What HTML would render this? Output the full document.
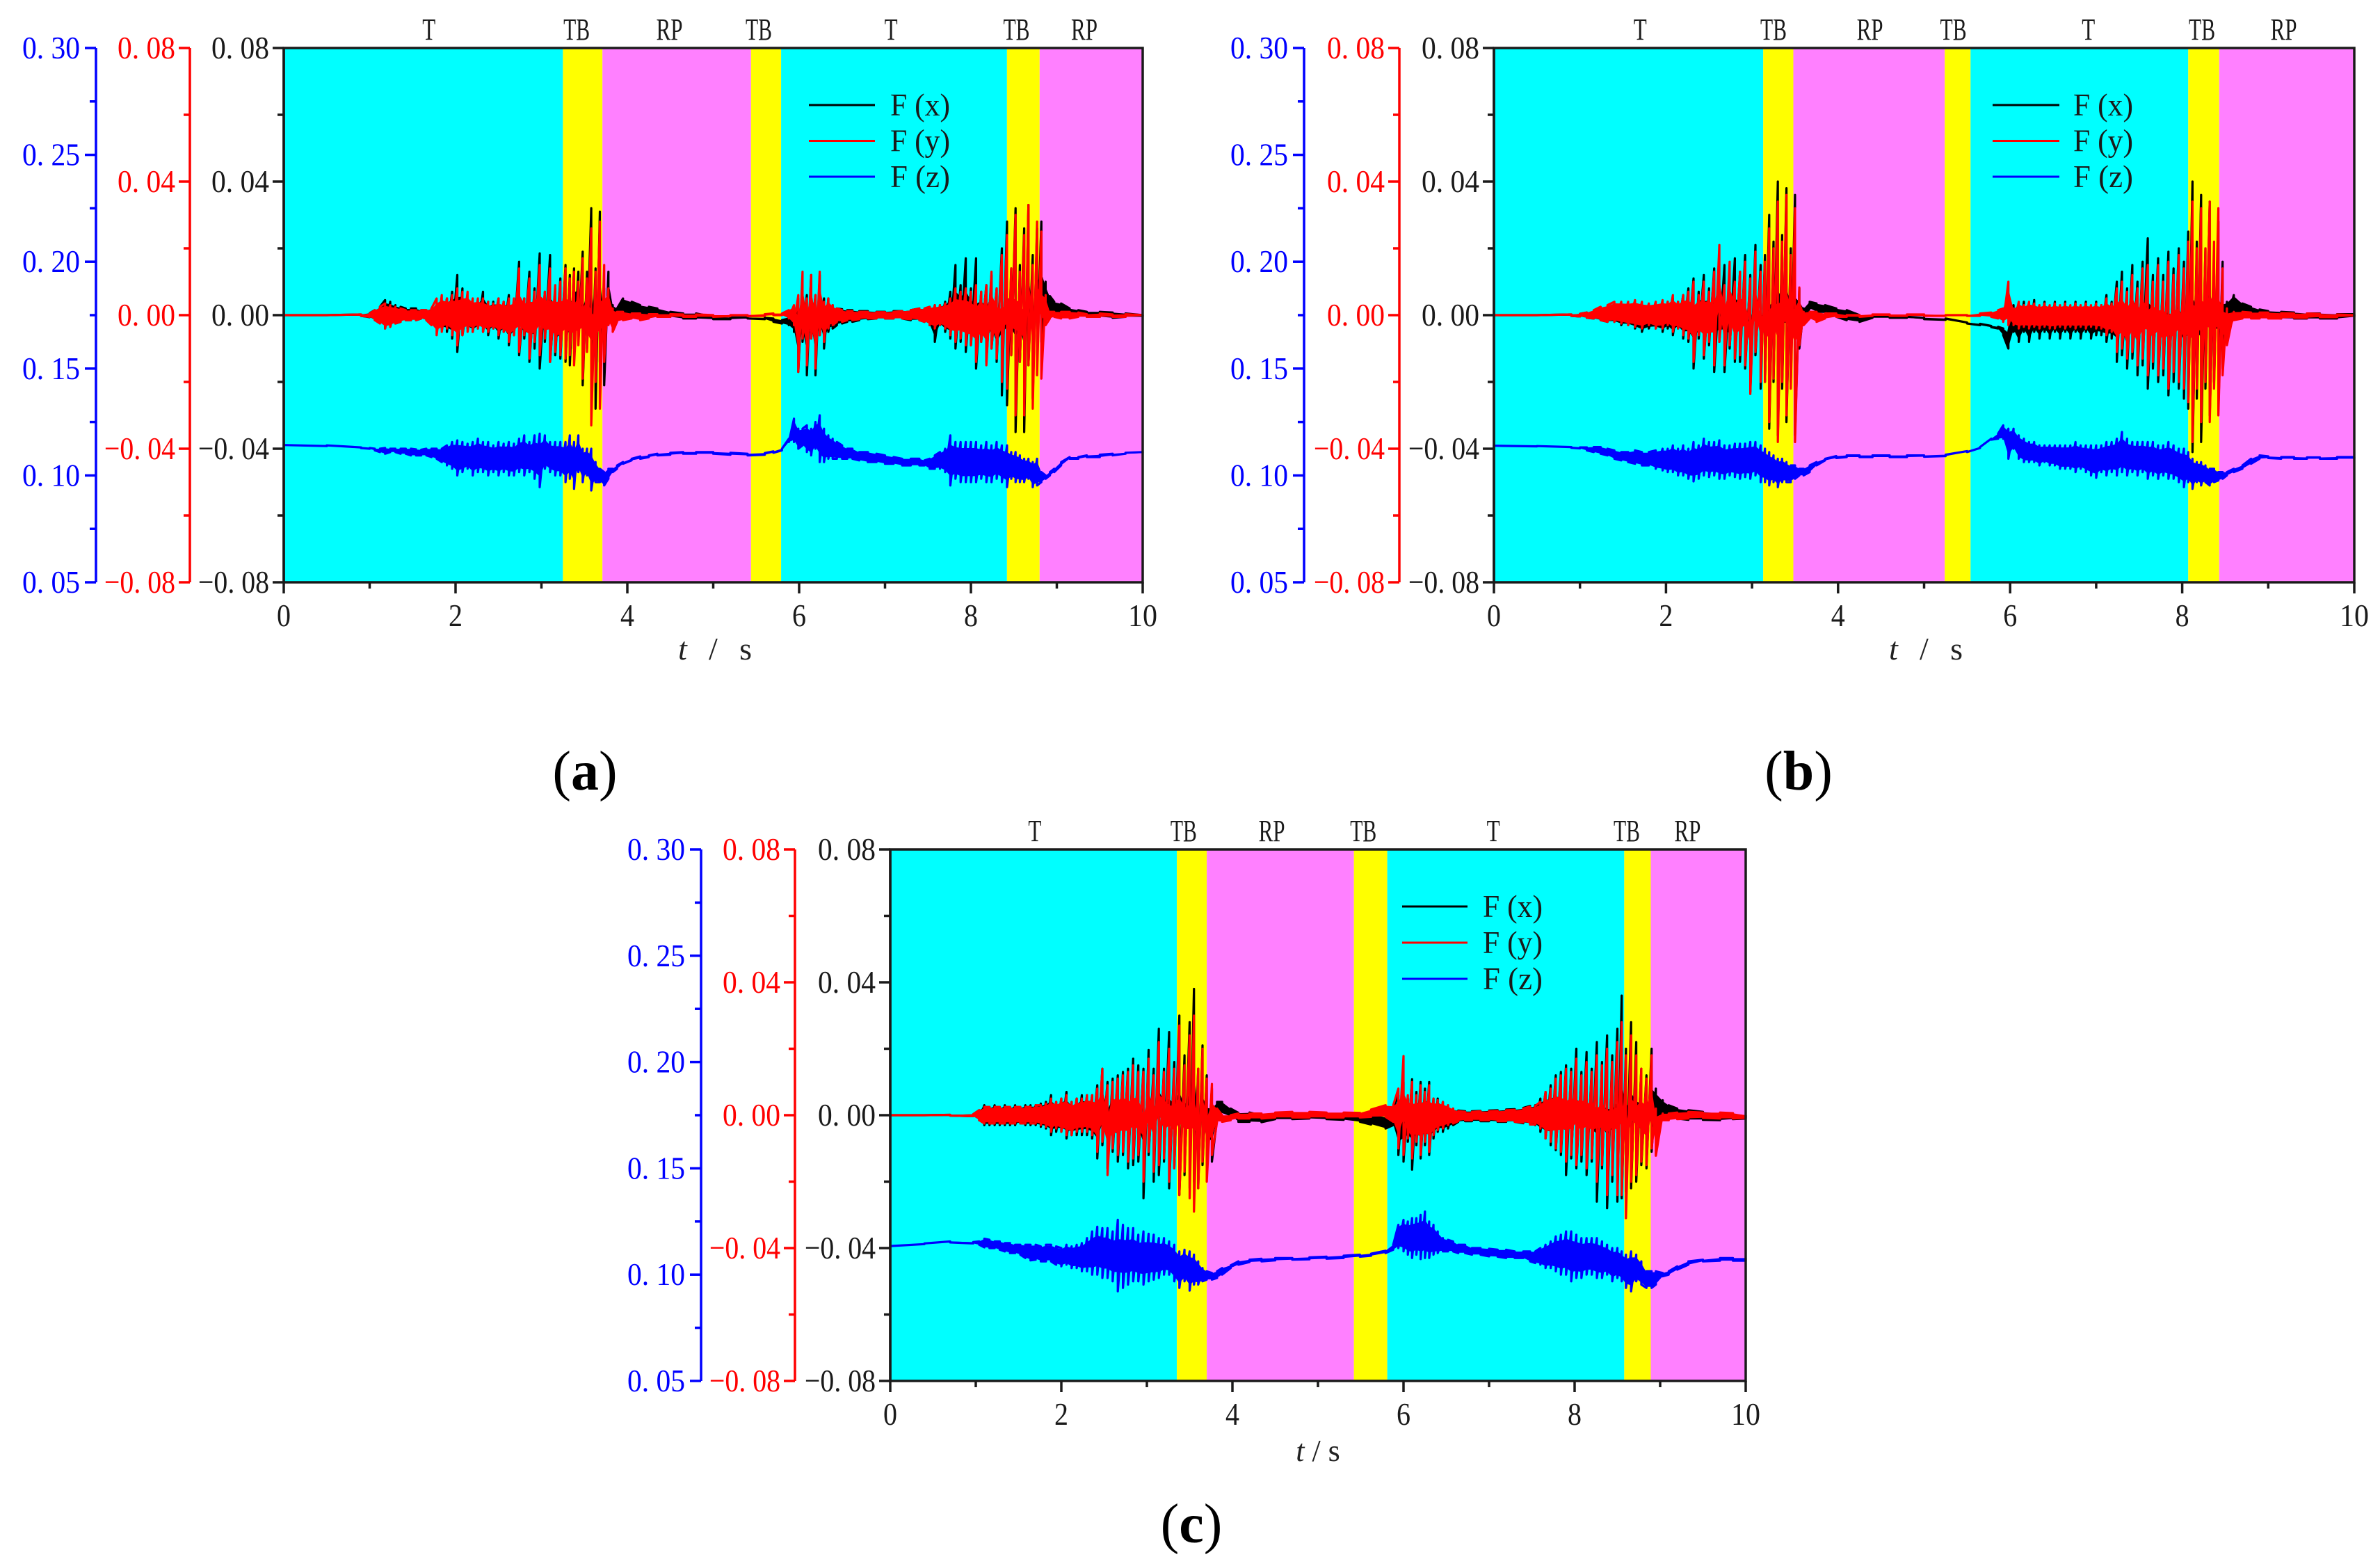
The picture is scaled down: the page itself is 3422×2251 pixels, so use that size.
<!DOCTYPE html>
<html lang="en">
<head>
<meta charset="utf-8">
<title>Force signals by phase</title>
<style>
html,body{margin:0;padding:0;background:#fff;width:3422px;height:2251px;overflow:hidden}
svg{display:block}
text{font-family:"Liberation Serif","Noto Serif CJK SC",serif}
</style>
</head>
<body>
<svg id="figure" xmlns="http://www.w3.org/2000/svg" width="3422" height="2251" viewBox="0 0 3422 2251">
<rect x="0" y="0" width="3422" height="2251" fill="#ffffff"/>
<g id="panel-a"></g>
<g id="panel-b"></g>
<g id="panel-c"></g>
<text x="1028" y="948" font-size="46" text-anchor="middle" fill="#222" xml:space="preserve" textLength="106" lengthAdjust="spacing"><tspan font-style="italic">t</tspan> / s</text>
<text x="2769" y="948" font-size="46" text-anchor="middle" fill="#222" xml:space="preserve" textLength="106" lengthAdjust="spacing"><tspan font-style="italic">t</tspan> / s</text>
<text x="1895" y="2100" font-size="44" text-anchor="middle" fill="#222"><tspan font-style="italic">t</tspan> / s</text>
<text x="841" y="1135" font-size="80" text-anchor="middle" fill="#000">(<tspan font-weight="bold">a</tspan>)</text>
<text x="2586" y="1135" font-size="80" text-anchor="middle" fill="#000">(<tspan font-weight="bold">b</tspan>)</text>
<text x="1713" y="2217" font-size="80" text-anchor="middle" fill="#000">(<tspan font-weight="bold">c</tspan>)</text>
</svg>
<script>
// ---- shared axis tick values and labels ----
const leftTicks=[-0.08,-0.04,0,0.04,0.08];
const leftMinorTicks=[-0.06,-0.02,0.02,0.06];
const leftTickLabels=["\u22120. 08","\u22120. 04","0. 00","0. 04","0. 08"];
const blueTicks=[0.05,0.10,0.15,0.20,0.25,0.30];
const blueMinorTicks=[0.075,0.125,0.175,0.225,0.275];
const blueTickLabels=["0. 05","0. 10","0. 15","0. 20","0. 25","0. 30"];
const timeTicks=[0,2,4,6,8,10];
const timeMinorTicks=[1,3,5,7,9];
const timeTickLabels=["0","2","4","6","8","10"];
const seriesNames=["F (x)","F (y)","F (z)"];
const phaseNames=["T","TB","RP","TB","T","TB","RP"];

// ---- panel (a): phases, seconds ----
const aPhaseEdges=[0,3.25,3.71,5.44,5.79,8.42,8.80,10];
const aPhaseLabelTimes=[1.69,3.41,4.49,5.53,7.07,8.53,9.32];
// ---- panel (a): envelope readings in units of 0.001 ----
const aTimes=[0,0.5,0.9,1,1.06,1.12,1.18,1.24,1.3,1.36,
1.42,1.48,1.54,1.6,1.66,1.72,1.78,1.84,1.9,1.96,
2.02,2.08,2.14,2.2,2.26,2.32,2.38,2.44,2.5,2.56,
2.62,2.68,2.74,2.8,2.86,2.92,2.98,3.04,3.1,3.16,
3.22,3.28,3.33,3.38,3.43,3.48,3.53,3.58,3.63,3.68,
3.73,3.78,3.83,3.88,3.95,4.05,4.15,4.25,4.35,4.5,
4.65,4.8,5,5.2,5.4,5.6,5.7,5.8,5.88,5.94,
5.99,6.04,6.09,6.14,6.19,6.24,6.29,6.34,6.39,6.44,
6.5,6.56,6.62,6.7,6.8,6.9,7,7.1,7.2,7.3,
7.4,7.46,7.52,7.58,7.64,7.7,7.76,7.82,7.88,7.94,
8,8.06,8.12,8.18,8.24,8.3,8.36,8.42,8.47,8.52,
8.57,8.62,8.67,8.72,8.77,8.82,8.87,8.92,8.97,9.05,
9.15,9.25,9.35,9.5,9.65,9.8,10];
const aFxHi=[0,0,0.2,0.6,1.5,2.5,4.5,4,3,2.5,
2,2,2,1.5,1.5,2,2,3,5,7,
12,8,4,3,4,7,4,4,5,4,
6,4,16,5,13,8,18.5,7,18,8,
11,15,12,14,13,19,13,32,14,31,
8,13,3,2,5,4,3,2.5,2,1,
0.5,0.5,-0.5,-0.7,-0.7,-0.8,-1,-1.5,-1,2.5,
5,10,6,12,6,12,5,5,3,2,
1.8,1.5,1.5,1.2,1.2,1,1,1.2,1.2,1.5,
2,2,2.5,3,3,4,7,15,9,17,
8,17,7,9,12,8,20,28,14,32,
15,26,33,18,26,28,10,5.7,4,3.5,
2,1.5,1,1,0.8,0.5,0];
const aFxLo=[0,0,-0.2,-0.6,-1.5,-2,-4,-3.5,-2.5,-2,
-1.5,-1.5,-1.5,-1,-1.5,-2,-3,-4,-5,-7,
-11,-6,-4,-5,-4,-5,-6,-4,-7,-5,
-9,-6,-12,-7,-14,-10,-16,-8,-14,-12,
-13,-14,-15,-10,-8,-21,-10,-22,-28,-14,
-21,-2,-1,0,0.5,0.5,0,0,-0.5,-0.5,
-1,-1,-1.2,-1.2,-1,-1.2,-2,-2.5,-3,-5,
-17,-8,-18,-7,-18,-6,-10,-5,-4,-3,
-2.5,-2,-2,-1.5,-1.2,-1,-1,-1,-1,-1.5,
-1.5,-2,-3,-8,-3,-5,-7,-10,-8,-11,
-9,-16,-8,-14,-10,-14,-24,-27,-12,-35,
-14,-35,-15,-25,-12,-8,-1,0.5,0.5,0.5,
0,0,-0.5,-0.5,-0.8,-0.5,-0.5];
const aFyHi=[0,0,0.2,0.5,1.5,2.5,3.5,3,2.5,2,
1.5,1.5,1.5,1.5,1.5,2,5,6,5,6,
8,7,7,5,5,5,4,3.5,5,4,
5,5,14,5,11,7,15,7,14,9,
10,14,11,13,10,17,11,26,13,28,
15,8,2,1,1,0.5,0.5,0.3,0.3,0.3,
0.2,0.2,0,0,0,0.3,0.5,0.5,1.5,3,
6,13,5,12,6,13,4,5,3,2,
1.5,1.2,1.2,1,1,0.9,0.9,1,1.2,1.5,
2,2,2.5,3,3,3.5,5,8,7,8,
7,9,7,9,13,8,18,24,14,30,
13,24,33,15,28,25,6,1,1,1,
1,0.8,0.3,0.5,0.2,0.3,0];
const aFyLo=[0,0,-0.2,-0.5,-1.5,-2.5,-4,-3.5,-2.5,-2,
-1.5,-1.5,-1.5,-1,-1.5,-3,-6,-5,-4,-6,
-9,-6,-5,-5,-4,-5,-5,-4,-6,-5,
-8,-6,-11,-6,-13,-8,-12,-7,-14,-11,
-12,-13,-12,-15,-9,-19,-11,-33,-20,-28,
-14,-3,-5,-2,-1.5,-1,-1.5,-1,-0.5,-0.5,
-0.5,-0.5,-0.5,-0.3,-0.3,-0.2,0,0,-1,-3,
-17,-7,-15,-7,-16,-6,-8,-4,-3,-2,
-2,-1.5,-1.5,-1.2,-1,-1,-1,-1,-1,-1.2,
-1.5,-2,-3,-4,-3,-4,-6,-8,-7,-9,
-9,-14,-8,-15,-10,-13,-20,-22,-12,-30,
-14,-30,-15,-28,-18,-19,-3,-1,-0.5,-1,
-1,-0.5,-0.5,-0.5,-0.5,-0.5,-0.3];
const aFzHi=[-38.8,-39,-39.6,-39.8,-40,-40,-39.8,-40,-40,-40,
-40,-40,-40.2,-40.3,-40,-40,-40,-40,-39,-38,
-37.5,-38,-38.5,-38,-37,-38,-38,-39,-38,-38.5,
-38,-38.5,-37,-36,-38,-36,-35.5,-36,-38,-38,
-38,-38,-36,-38,-36,-40,-40,-40,-44,-46,
-47,-46,-46,-45,-44,-43,-42.3,-42,-41.5,-41.2,
-41,-41,-41,-41.2,-41.5,-41.3,-40.8,-40,-37,-31,
-34,-34,-33,-34,-32,-30,-34,-36,-37,-38,
-39,-40,-40,-41,-41,-41.5,-42,-42.5,-43,-43,
-43,-43.5,-43,-42,-41,-40,-36,-38,-38,-38,
-38,-38,-39,-38,-39,-38,-39,-39,-41,-41,
-42,-43,-43,-44,-43,-47,-48,-47,-46,-44,
-42.5,-42.5,-42,-41.8,-41.5,-41.2,-41];
const aFzLo=[-38.9,-39.2,-39.8,-40,-40.5,-41,-41.5,-41,-41,-41.5,
-41.5,-42,-42,-42,-42,-42.5,-43,-44,-45,-46,
-48,-47,-46,-48,-47,-47,-48,-47,-48,-47,
-48,-48,-47,-48,-47,-49,-51.5,-46,-47,-48,
-48,-50,-49,-52,-47,-50,-48,-52.5,-50,-50,
-51,-49,-47,-46,-44.5,-43.5,-43,-42.5,-42,-41.8,
-41.5,-41.5,-41.5,-41.8,-42,-41.8,-41.2,-40.5,-38,-38,
-40,-39,-41,-42,-40,-44,-44,-43,-43,-43,
-43,-43,-43,-43.5,-44,-44,-44.5,-44.5,-45,-45,
-45,-45,-46,-46,-46,-47,-51,-49,-50,-50,
-50,-50,-49,-50,-50,-49,-50,-51.5,-49,-50,
-50,-50,-49,-51.5,-51,-50,-49,-48,-47,-45,
-43,-43,-42.5,-42.5,-42,-41.5,-41.3];

// ---- panel (b) ----
const bPhaseEdges=[0,3.13,3.48,5.24,5.54,8.07,8.43,10];
const bPhaseLabelTimes=[1.70,3.25,4.37,5.34,6.91,8.23,9.18];
const bTimes=[0,0.5,0.9,1,1.08,1.16,1.24,1.32,1.4,1.48,
1.56,1.64,1.72,1.8,1.88,1.96,2.02,2.08,2.14,2.2,
2.26,2.32,2.38,2.44,2.5,2.56,2.62,2.68,2.74,2.8,
2.86,2.92,2.98,3.04,3.1,3.15,3.2,3.25,3.3,3.35,
3.4,3.45,3.5,3.55,3.6,3.67,3.75,3.85,3.98,4.1,
4.25,4.4,4.6,4.8,5,5.25,5.5,5.65,5.78,5.86,
5.92,5.98,6.04,6.1,6.16,6.22,6.28,6.34,6.4,6.46,
6.52,6.58,6.64,6.7,6.76,6.82,6.88,6.94,7,7.06,
7.12,7.18,7.24,7.3,7.36,7.42,7.48,7.54,7.6,7.66,
7.72,7.78,7.84,7.9,7.96,8.02,8.07,8.12,8.17,8.22,
8.27,8.32,8.37,8.42,8.47,8.52,8.6,8.7,8.8,8.9,
9,9.15,9.3,9.45,9.6,9.8,10];
const bFxHi=[0,0,0.2,0.4,0.8,1,1.5,2,2.5,3,
3,3.5,3,2.5,3,3.5,4,5,4,6,
8,11,7,12,8,14,9,15,9,17,
13,18,12,21,15,18,30,22,40,24,
38,20,36,8,2,4,3.5,3,2,1.5,
0,-0.3,-0.4,-0.5,-0.8,-1,-2.2,-2.6,-3.2,-3.5,
-4,-5,3,-1,4,1,4.5,2,4,2,
4,2,4,2,4,2,4,2,4,3,
6,4,10,13,8,15,10,16,23,12,
17,12,19,14,20,16,25,40,22,36,
20,34,18,28,16,4,6,3.5,2.5,1.7,
1.2,1,0.8,0.5,0.5,0.3,0.3];
const bFxLo=[0,0,-0.2,-0.4,-0.8,-1,-1.5,-2,-2,-3,
-3,-4,-5,-4,-4,-5,-4,-6,-4,-7,
-8,-16,-7,-13,-9,-17,-8,-17,-10,-14,
-14,-16,-23,-12,-22,-20,-34,-20,-36,-22,
-32,-20,-36,-10,-1,2,1,1,-0.5,-1.5,
-2,-0.8,-0.8,-0.8,-1.2,-1.4,-2.5,-3,-3.6,-4,
-6,-10,-5,-8,-5,-8,-5,-7,-5,-7,
-5,-7,-5,-7,-5,-7,-5,-7,-6,-6,
-8,-7,-14,-12,-16,-13,-18,-15,-22,-16,
-20,-18,-24,-20,-22,-25,-28,-41,-25,-38,
-22,-30,-20,-28,-16,-2,1,0.5,0,-0.5,
-0.5,-1,-1,-1,-1,-1,-0.5];
const bFyHi=[0,0,0.2,0.4,0.8,1.5,2.5,3,4,4,
4,4.5,4,3.5,4,4.5,4,6,4,6,
7,10,6,10,7,13,21,9,16,10,
13,16,11,19,13,16,26,20,34,22,
36,18,32,8.3,1,1,1,0.5,0.5,0,
0,0.2,0.2,0.2,0.2,0,0,0.5,0.8,1.5,
2,10,2,4,3,4,3.5,3,3.5,3,
3.5,3,3.5,3,3.5,3,3.5,3,3.5,3,
5,3.5,8,10,7,12,8,14,15,10,
15,10,16,12,18,14,22,34,20,32,
20,34,22,32,14,2,1,1,0.8,0.8,
0.8,0.6,0.5,0.5,0.4,0.2,0];
const bFyLo=[0,0,-0.2,-0.4,-0.8,-1,-1.5,-2,-2,-2.5,
-3,-3.5,-4,-3,-4,-4,-3,-5,-4,-6,
-7,-14,-6,-12,-8,-15,-8,-15,-9,-13,
-12,-15,-23.6,-11,-20,-20,-32,-19,-38,-20,
-30,-22,-38,-9,-3,-1,-2,-1,-0.5,-0.5,
-0.5,-0.2,-0.2,-0.2,-0.2,-0.2,-0.2,-0.2,-0.5,-1,
-2,-3,-3,-4,-3.5,-4,-3.5,-4,-3.5,-4,
-4,-3.5,-4,-3.5,-4,-3.5,-4,-3.5,-4,-4,
-6,-5,-11,-10,-13,-11,-15,-13,-18,-14,
-18,-16,-22,-17,-20,-22,-26,-38,-22,-32,
-20,-32,-22,-30,-18,-9,-1.5,-1,-1,-1,
-1,-1,-0.8,-0.8,-0.6,-0.6,-0.4];
const bFzHi=[-39,-39.2,-39.5,-39.6,-39.6,-39.5,-39.5,-40,-40.5,-41,
-41,-40.5,-41,-41,-40.5,-40,-40,-39,-40,-39,
-40,-38,-39,-37,-38,-38,-37.5,-39,-39,-38.5,
-38.5,-38.5,-38,-38,-39,-40,-41,-42,-43,-43,
-44,-45,-45,-46,-46,-45,-44,-43,-42.2,-42,
-42,-42,-42,-42,-42,-41.8,-40.7,-39.5,-37,-35.5,
-33,-34,-34,-36,-37,-38,-38,-39,-39,-39,
-39,-39,-39,-39,-38,-39,-39,-39,-39,-39,
-38,-38,-37,-35,-37,-38,-38,-38,-38,-38,
-39,-39,-38,-39,-40,-40,-41,-43,-44,-44,
-45,-46,-46,-47,-47,-47,-46,-45,-43,-42,
-42.3,-42.5,-42.5,-42.6,-42.6,-42.5,-42.5];
const bFzLo=[-39.1,-39.3,-39.7,-39.9,-40.5,-41,-41.5,-42,-43,-43.5,
-44,-44.5,-45,-45,-46,-46.5,-47,-47,-48,-48,
-49,-49.8,-49,-48,-48.5,-48,-49,-49,-48,-48.5,
-49,-48.5,-49,-48,-50,-50,-51,-50,-51.5,-50,
-50,-50,-49,-48,-48,-47,-45,-43.5,-42.8,-42.5,
-42.5,-42.5,-42.5,-42.5,-42.4,-42.2,-41,-39.8,-37.3,-37,
-37,-43,-40,-43,-44,-44,-44,-45,-44,-45,
-45,-46,-46,-46,-47,-46,-47,-48,-48.7,-47,
-48,-47,-48,-47,-48,-47,-48,-47,-49,-48,
-49,-48,-49,-49,-50,-51.5,-50,-52,-50,-51,
-50,-51,-50,-49.5,-49,-48,-47,-46,-44.5,-43,
-42.8,-43,-43,-43,-43,-43,-43];

// ---- panel (c) ----
const cPhaseEdges=[0,3.35,3.70,5.42,5.81,8.58,8.89,10];
const cPhaseLabelTimes=[1.69,3.43,4.46,5.53,7.05,8.61,9.32];
const cTimes=[0,0.4,0.7,0.97,1.04,1.1,1.16,1.22,1.28,1.34,
1.4,1.46,1.52,1.58,1.64,1.7,1.76,1.82,1.88,1.94,
2,2.06,2.12,2.18,2.24,2.3,2.36,2.42,2.48,2.54,
2.6,2.66,2.72,2.78,2.84,2.9,2.96,3.02,3.08,3.14,
3.2,3.26,3.32,3.38,3.44,3.5,3.55,3.6,3.65,3.7,
3.76,3.82,3.88,3.98,4.07,4.2,4.34,4.5,4.7,4.9,
5.1,5.3,5.49,5.62,5.79,5.88,5.94,6,6.05,6.1,
6.15,6.2,6.25,6.3,6.35,6.4,6.46,6.52,6.58,6.64,
6.72,6.8,6.9,7,7.1,7.2,7.3,7.4,7.48,7.54,
7.6,7.66,7.72,7.78,7.84,7.9,7.96,8.02,8.08,8.14,
8.2,8.26,8.32,8.38,8.44,8.5,8.55,8.6,8.66,8.72,
8.78,8.84,8.9,8.95,9.03,9.1,9.2,9.33,9.5,9.7,
9.85,10];
const cFxHi=[0,0,0.1,0.3,1.5,3,2.5,3,2.5,3,
2.5,3,2.5,3,3,3,3.5,4,6,4,
5,7,4,5,6,6,6,9,14,10,
11,12,13,14,17,15,14,19.6,14,26,
14,25,16,30,18,28,38,14,21,12,
8,4,4,2,0.7,0.8,0,0.5,0.5,0.8,
0.5,0.3,0,0,-1,2,6,10,5,10.8,
7,10,8,10,5,5,4,3,2,1.4,
1.2,1.2,1.3,1.4,1.5,1.7,1.8,2.2,2.8,3,
5,7,9,12,13,15,14,20,13,19,
14,22,16,24,18,26,36,20,28,22,
14,12,20,8,4.5,3,2,1.5,1,0.6,
0.5,0];
const cFxLo=[0,0,-0.1,-0.3,-1.5,-3,-3,-3,-3,-3,
-3,-3,-2.5,-3,-3,-3,-3.5,-4,-6,-5,
-5,-7,-6,-6,-6,-6,-7,-13,-9,-16,
-11,-14,-12,-16,-15,-14,-25,-12,-20,-18,
-14,-22,-16,-24,-18,-22,-20,-22,-15,-16,
-14,-1,1,0,-2,-2,-2.1,-1.2,-1.2,-1,
-1.2,-1.4,-2,-2.8,-4,-3,-12,-14,-8,-16.4,
-9,-13,-9,-12,-7,-5,-5,-4,-3,-2,
-1.8,-1.8,-1.8,-1.8,-2,-2,-2,-2.4,-2.8,-3,
-5,-7,-9,-10.5,-12,-18,-13,-16,-14,-18,
-14,-26,-16,-28,-20,-26,-25,-23,-22,-20,
-15,-16,-11,-3,0,0.5,-1,-1.4,-1.4,-1.5,
-1.2,-1];
const cFyHi=[0,0,0.1,0.3,1.5,2.5,2.5,2.5,2.5,2.5,
2.5,2.5,2.5,2.5,2.5,3,3,3.5,5,4,
5,6,4,5,5,6,6,8,14,9,
10,11,12,13,15,13,13,17,12,22,
13,20,14,27,15,24,30,14,20,11,
9.4,2,0,0,0.5,0.5,0.5,0.8,1,1,
0.8,0.8,0.7,1.7,3,3,8,17.8,6,10,
6,9,7,9,5,4.5,4,3,2,1.2,
1,1,1.2,1.2,1.3,1.5,1.6,2,2.6,2.8,
4,7,8,11,12,14,13,17,12,16,
13,18,15,20,16,22,28,18,24,18,
14,11,18,2,0.5,0.5,0.8,1,0.8,0.8,
0.6,0];
const cFyLo=[0,0,-0.1,-0.3,-1.5,-2.5,-2.5,-2.5,-2.5,-2.5,
-2.5,-2.5,-2.5,-2.5,-2.5,-2.5,-3,-3.5,-5,-4,
-5,-6,-6,-5,-5,-5,-6,-11,-8,-18,
-10,-12,-11,-14,-13,-12,-20,-11,-17,-15,
-13,-20,-16,-24,-17,-25,-29,-22,-14,-20,
-12,-2,-2,-1.5,-1,-1,-1,-0.7,-0.7,-0.7,
-0.7,-0.7,-0.7,-0.5,-0.5,-2,-10,-12,-7,-13,
-8,-12,-8,-11,-6,-4.5,-4,-3,-2.5,-1.8,
-1.5,-1.5,-1.5,-1.5,-1.8,-1.8,-2,-2.2,-2.8,-2.8,
-4,-7,-8,-10,-11,-14,-12,-15,-12,-16,
-13,-20,-15,-24,-18,-24,-24,-31,-20,-18,
-14,-15,-10,-12.2,-1.5,-1.5,-1.2,-1,-0.8,-1,
-1,-0.8];
const cFzHi=[-39.2,-38.6,-38,-38.2,-38,-37.2,-37.5,-38,-38,-38.5,
-38.5,-39,-39,-39,-39,-39,-39.5,-39,-39,-39.5,
-40,-39,-39.5,-39,-38.5,-37,-35,-33.6,-34,-34,
-35,-31.5,-33,-34,-34,-36,-35,-35.7,-36,-37,
-37,-38,-39,-41,-40.5,-41,-42,-44,-46,-47,
-47.5,-47,-46,-45.2,-44,-43.5,-43.2,-43,-43,-42.8,
-42.6,-42.3,-42,-41.7,-40.8,-39,-33,-31.5,-32,-31,
-31,-30,-29,-32,-33,-35,-37,-37.5,-38,-39,
-39,-40,-40,-40.2,-40.5,-40.5,-41,-41,-41,-41,
-40,-39,-38,-36.5,-36,-35,-35,-36,-37,-37,
-37,-37,-38,-39,-40,-40,-41,-42,-41,-42,
-44,-47,-47,-47,-47.5,-47,-45.5,-44,-43.5,-43,
-43,-43];
const cFzLo=[-39.4,-38.8,-38.3,-38.6,-39,-39.8,-40,-40,-40.5,-41,
-41.5,-41.5,-42,-43,-43.7,-43.5,-44,-44,-44,-45,
-45.5,-45,-46,-46,-47,-47,-48,-48,-49,-49,
-50,-53,-52,-51,-50,-50,-51,-50,-49.5,-49,
-48,-48,-50,-52,-50,-52.8,-51,-51,-50,-49.5,
-49.5,-49,-48,-46,-45,-44.2,-44,-43.7,-43.5,-43.4,
-43.2,-43,-42.6,-42.3,-41.5,-40.5,-40,-41,-42,-43,
-42,-43.3,-43,-43,-42,-41.5,-41,-41,-41,-41.5,
-41.5,-42,-42,-42.5,-42.6,-43,-43,-43,-44,-44.5,
-45,-46,-46,-47,-48,-48,-50,-49,-49,-48,
-48,-49,-49,-48,-50,-49,-50,-52,-53,-50,
-51,-52,-52,-51,-48.5,-48,-46.5,-45,-44,-43.8,
-43.8,-43.8];

// ---- rendering ----
const SVG_NS="http://www.w3.org/2000/svg";
const INK="#1a1a1a", RED="#ff0000", BLUE="#0000ff";
const PHASE_FILL={T:"#00ffff",TB:"#ffff00",RP:"#ff80ff"};
const panels=[
 {id:"a",plot:{l:408,r:1643,t:69,b:837},blueX:138,redX:273,labelY:57,
  legend:{lineL:1163,lineR:1258,textX:1280,y:151,gap:51.5},
  times:aTimes,edges:aPhaseEdges,labelTimes:aPhaseLabelTimes,
  fx:[aFxHi,aFxLo],fy:[aFyHi,aFyLo],fz:[aFzHi,aFzLo]},
 {id:"b",plot:{l:2148,r:3385,t:69,b:837},blueX:1875,redX:2012,labelY:57,
  legend:{lineL:2865,lineR:2961,textX:2981,y:151,gap:51.5},
  times:bTimes,edges:bPhaseEdges,labelTimes:bPhaseLabelTimes,
  fx:[bFxHi,bFxLo],fy:[bFyHi,bFyLo],fz:[bFzHi,bFzLo]},
 {id:"c",plot:{l:1280,r:2510,t:1221,b:1985},blueX:1008,redX:1143,labelY:1209,
  legend:{lineL:2016,lineR:2110,textX:2132,y:1303,gap:52},
  times:cTimes,edges:cPhaseEdges,labelTimes:cPhaseLabelTimes,
  fx:[cFxHi,cFxLo],fy:[cFyHi,cFyLo],fz:[cFzHi,cFzLo]}
];
function make(tag,attrs,parent){
 const node=document.createElementNS(SVG_NS,tag);
 for(const k in attrs){node.setAttribute(k,attrs[k]);}
 parent.appendChild(node);
 return node;
}
function timeScale(p,t){return p.plot.l+(p.plot.r-p.plot.l)*t/10;}
function leftScale(p,v){return p.plot.b-(p.plot.b-p.plot.t)*(v+0.08)/0.16;}
function blueScale(p,v){return p.plot.b-(p.plot.b-p.plot.t)*(v-0.05)/0.25;}
function labelWidth(s){return s.length>5?102:83;}
function drawVerticalAxis(p,g,x,color,ticks,minor,labels,scale,prefix,gap){
 const line=make("line",{x1:x,x2:x,y1:p.plot.t,y2:p.plot.b,stroke:color,"stroke-width":3.5},g);
 
 
 ticks.forEach(function(v,i){
  const y=scale(p,v);
  const tick=make("line",{x1:x-16,x2:x,y1:y,y2:y,stroke:color,"stroke-width":3.5},g);
  
  
  const label=make("text",{x:x-gap,y:y+15,"text-anchor":"end","font-size":46,fill:color,textLength:labelWidth(labels[i]),lengthAdjust:"spacingAndGlyphs"},g);
  label.textContent=labels[i];
  
  
 });
 minor.forEach(function(v){
  const y=scale(p,v);
  const tick=make("line",{x1:x-9,x2:x,y1:y,y2:y,stroke:color,"stroke-width":3.5},g);
  
  
 });
}
function drawEnvelope(p,g,band,color,name){
 const hi=band[0],lo=band[1];
 const n=Math.min(p.times.length,hi.length,lo.length);
 // dense core of the oscillation, narrower where the swing is large
 let top="",bottom="";
 for(let i=0;i<n;i++){
  const x=timeScale(p,p.times[i]).toFixed(1);
  const range=hi[i]-lo[i];
  const mid=(hi[i]+lo[i])/2;
  const f=Math.max(0.15,1-range/40);
  top+=(i?"L":"M")+x+" "+leftScale(p,(mid+f*range/2)/1000).toFixed(1);
  bottom="L"+x+" "+leftScale(p,(mid-f*range/2)/1000).toFixed(1)+bottom;
 }
 const core=make("path",{d:top+bottom+"Z",fill:color,stroke:"none"},g);
 
 
 // swing between the envelopes; small swings trace a thick wiggle rather than a saw
 let d="",flip=false;
 for(let i=0;i<n;i++){
  const x=timeScale(p,p.times[i]).toFixed(1);
  const yh=leftScale(p,hi[i]/1000).toFixed(1);
  const yl=leftScale(p,lo[i]/1000).toFixed(1);
  const small=hi[i]-lo[i]<6;
  const first=(small&&flip)?yl:yh;
  const second=(small&&flip)?yh:yl;
  d+=(i?"L":"M")+x+" "+first+"L"+x+" "+second;
  flip=!flip;
 }
 const path=make("path",{d:d,fill:"none",stroke:color,"stroke-width":3.2,"stroke-linejoin":"round"},g);
 
 
}
panels.forEach(function(p){
 const g=document.getElementById("panel-"+p.id);
 // phase bands and their labels
 phaseNames.forEach(function(name,i){
  const x0=timeScale(p,p.edges[i]),x1=timeScale(p,p.edges[i+1]);
  const band=make("rect",{x:x0,y:p.plot.t,width:x1-x0,height:p.plot.b-p.plot.t,fill:PHASE_FILL[name]},g);
  
  
  const lab=make("text",{x:timeScale(p,p.labelTimes[i]),y:p.labelY,"text-anchor":"middle","font-size":44,fill:INK,textLength:name.length>1?38:19,lengthAdjust:"spacingAndGlyphs"},g);
  lab.textContent=name;
  
  
 });
 // series
 drawEnvelope(p,g,p.fx,"#000000","series-f-x");
 drawEnvelope(p,g,p.fy,RED,"series-f-y");
 drawEnvelope(p,g,p.fz,BLUE,"series-f-z");
 // plot frame
 const frame=make("rect",{x:p.plot.l,y:p.plot.t,width:p.plot.r-p.plot.l,height:p.plot.b-p.plot.t,fill:"none",stroke:INK,"stroke-width":3.5},g);
 
 
 // vertical axes
 drawVerticalAxis(p,g,p.plot.l,INK,leftTicks,leftMinorTicks,leftTickLabels,leftScale,'black-y',21);
 drawVerticalAxis(p,g,p.redX,RED,leftTicks,leftMinorTicks,leftTickLabels,leftScale,'red-y',21);
 drawVerticalAxis(p,g,p.blueX,BLUE,blueTicks,blueMinorTicks,blueTickLabels,blueScale,'blue-y',23);
 // time axis
 timeTicks.forEach(function(t,i){
  const x=timeScale(p,t);
  const tick=make("line",{x1:x,x2:x,y1:p.plot.b,y2:p.plot.b+16,stroke:INK,"stroke-width":3.5},g);
  
  
  const label=make("text",{x:x,y:p.plot.b+63,"text-anchor":"middle","font-size":46,fill:INK,textLength:timeTickLabels[i].length>1?42:20,lengthAdjust:"spacingAndGlyphs"},g);
  label.textContent=timeTickLabels[i];
  
  
 });
 timeMinorTicks.forEach(function(t){
  const x=timeScale(p,t);
  const tick=make("line",{x1:x,x2:x,y1:p.plot.b,y2:p.plot.b+9,stroke:INK,"stroke-width":3.5},g);
  
  
 });
 // legend
 const colors=["#000000",RED,BLUE];
 seriesNames.forEach(function(name,i){
  const y=p.legend.y+i*p.legend.gap;
  const swatch=make("line",{x1:p.legend.lineL,x2:p.legend.lineR,y1:y,y2:y,stroke:colors[i],"stroke-width":3},g);
  
  
  const txt=make("text",{x:p.legend.textX,y:y+15,"font-size":46,fill:INK,textLength:86,lengthAdjust:"spacingAndGlyphs"},g);
  txt.textContent=name;
  
  
 });
});
</script>
</body>
</html>
